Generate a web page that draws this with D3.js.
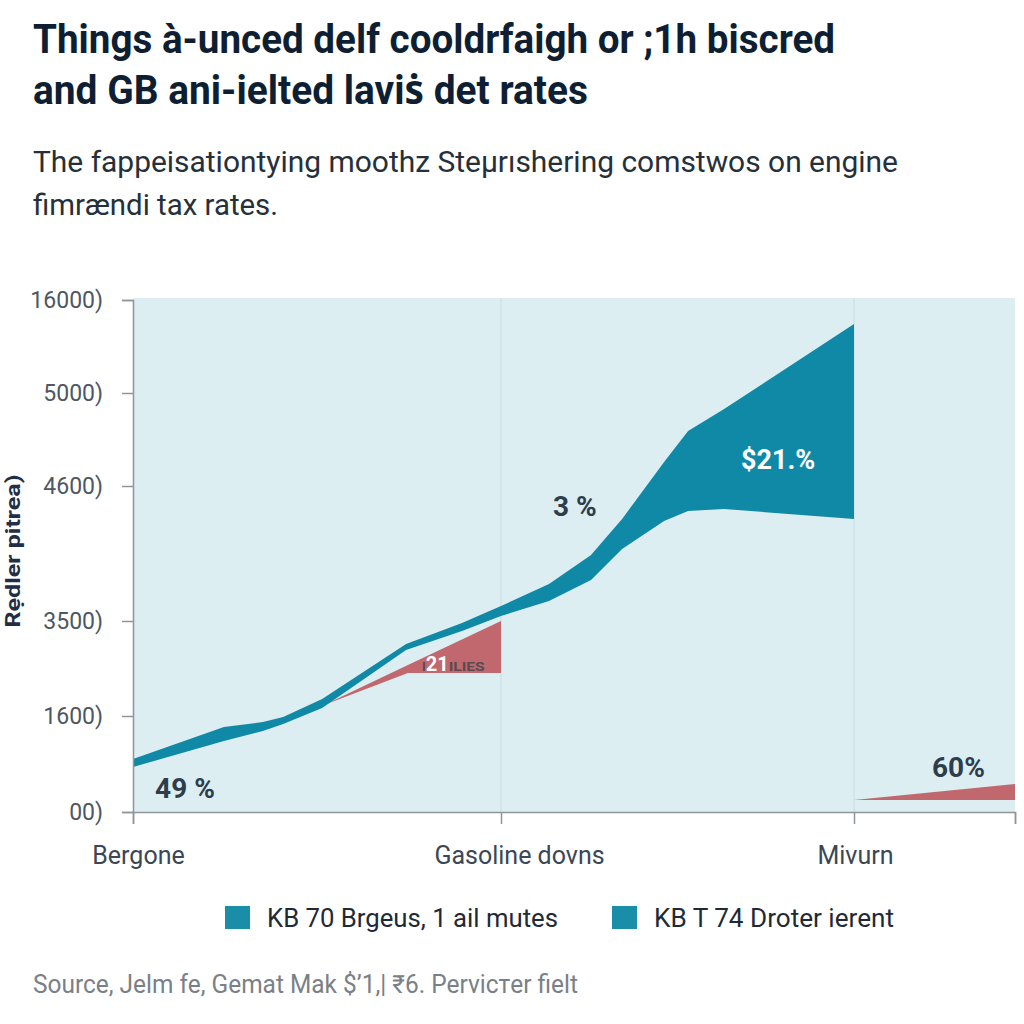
<!DOCTYPE html>
<html>
<head>
<meta charset="utf-8">
<script src="https://cdn.jsdelivr.net/npm/d3@7"></script>
<style>
  html, body { margin: 0; padding: 0; background: #ffffff; }
  svg { display: block; font-family: Roboto, "Noto Sans", "DejaVu Sans", sans-serif; }
</style>
</head>
<body>
<svg id="chart" width="1024" height="1024"></svg>
<script>
// ---------- data ----------
const categories = ["Bergone", "Gasoline dovns", "Mivurn"];
const yTickValues = [0, 1600, 3500, 4600, 5000, 16000];
const yTickLabels = ["00)", "1600)", "3500)", "4600)", "5000)", "16000)"];

// teal band (lower / upper edge)
const bandX    = [0, 0.247, 0.353, 0.408, 0.514, 0.742, 0.894, 1.0, 1.136, 1.255, 1.343, 1.462, 1.530, 1.632, 2.0];
const bandLow  = [750, 1183, 1350, 1467, 1760, 2920, 3300, 3541, 3663, 3834, 4087, 4315, 4396, 4413, 4331];
const bandHigh = [883, 1417, 1500, 1583, 1940, 3040, 3460, 3622, 3801, 4038, 4331, 4703, 4837, 4931, 13161];

// red wedges
const redAX    = [0.519, 0.747, 1.0];
const redALow  = [1820, 2460, 2460];
const redAHigh = [1820, 2620, 3500];
const redBX    = [2.0, 2.456];
const redBLow  = [200, 200];
const redBHigh = [200, 467];

// annotations
const noteText = ["49 %", "3 %", "$21.%", "60%"];
const noteX    = [0.06, 1.147, 1.68, 2.221];
const noteY    = [233, 4356, 4673, 583];

const legendLabels = ["KB 70 Brgeus, 1 ail mutes", "KB T 74 Droter ierent"];

const titleLines = ["Things à-unced delf cooldrfaigh or ;1h biscred", "and GB ani-ielted laviṡ det rates"];
const subtitleLines = ["The fappeisationtying moothz Steμrıshering comstwos on engine", "fimrændi tax rates."];
const yTitle = "Rẹdler pitrea)";
const sourceText = "Source, Jelm fe, Gemat Mak $’1,| ₹6. Pervicтer fielt";

// ---------- styles ----------
const TEAL = "#1089a7", RED = "#c0686e", BG = "#dceef2", AXIS = "#8d969c";

const svg = d3.select("#chart");

// scales
const xEnd = 2.456;
const x = d3.scaleLinear().domain([0, 1, 2, xEnd]).range([133, 501, 854, 1015]);
const y = d3.scaleLinear().domain(yTickValues).range([812, 716, 621, 486, 393, 300]);

// plot background
svg.append("rect")
  .attr("x", x(0)).attr("y", 298)
  .attr("width", x(xEnd) - x(0)).attr("height", y(0) - 298)
  .attr("fill", BG);

// vertical gridlines
svg.append("g").selectAll("line").data([1, 2]).join("line")
  .attr("x1", d => x(d)).attr("x2", d => x(d))
  .attr("y1", 298).attr("y2", y(0))
  .attr("stroke", "#c6dde3").attr("stroke-width", 1);

// areas
const area = d3.area().x(d => x(d[0])).y0(d => y(d[1])).y1(d => y(d[2]));
const zip = (xs, lo, hi) => xs.map((v, i) => [v, lo[i], hi[i]]);

svg.append("path").datum(zip(redAX, redALow, redAHigh)).attr("d", area).attr("fill", RED);
svg.append("path").datum(zip(redBX, redBLow, redBHigh)).attr("d", area).attr("fill", RED);
svg.append("path").datum(zip(bandX, bandLow, bandHigh)).attr("d", area).attr("fill", TEAL);

// label inside red wedge (single text, mixed tspans)
const wedgeLabel = svg.append("text").attr("x", x(0.785)).attr("y", y(2510))
  .attr("font-weight", 700);
wedgeLabel.append("tspan").attr("font-size", 13).attr("fill", "#5a4a4e").text("I");
wedgeLabel.append("tspan").attr("font-size", 20).attr("fill", "#ffffff").text("21");
wedgeLabel.append("tspan").attr("font-size", 13).attr("fill", "#5a4a4e")
  .attr("textLength", 36).attr("lengthAdjust", "spacingAndGlyphs").text("ILIES");

// annotations
svg.append("g").selectAll("text").data(noteText).join("text")
  .attr("x", (d, i) => x(noteX[i])).attr("y", (d, i) => y(noteY[i]))
  .attr("font-size", (d, i) => i === 2 ? 27 : 28)
  .attr("font-weight", 700)
  .attr("fill", (d, i) => i === 2 ? "#ffffff" : "#2e3d4b")
  .text(d => d);

// y axis
const yAxis = d3.axisLeft(y).tickValues(yTickValues)
  .tickFormat((d, i) => yTickLabels[i]).tickSize(11).tickPadding(19);
const gy = svg.append("g").attr("transform", `translate(${x(0)},0)`).call(yAxis);
gy.select(".domain").attr("stroke", AXIS).attr("stroke-width", 1.5);
gy.selectAll(".tick line").attr("stroke", AXIS).attr("stroke-width", 1.5);
gy.selectAll(".tick text").attr("font-size", 23).attr("fill", "#4d5862")
  .attr("font-family", "Roboto, sans-serif");

// x axis
const xLabelShift = [5, 18, 1];
const xAxis = d3.axisBottom(x).tickValues([0, 1, 2, xEnd])
  .tickFormat((d, i) => categories[i] || "").tickSize(12).tickPadding(22);
const gx = svg.append("g").attr("transform", `translate(0,${y(0)})`).call(xAxis);
gx.select(".domain").attr("stroke", AXIS).attr("stroke-width", 1.5);
gx.selectAll(".tick line").attr("stroke", AXIS).attr("stroke-width", 1.5);
gx.selectAll(".tick text").attr("font-size", 25).attr("fill", "#3b4754")
  .attr("font-family", "Roboto, sans-serif")
  .attr("dx", (d, i) => xLabelShift[i] || 0);

// y title
svg.append("text")
  .attr("transform", `translate(20,551) rotate(-90)`)
  .attr("text-anchor", "middle")
  .attr("font-size", 20).attr("font-weight", 700).attr("fill", "#1f2f45")
  .attr("textLength", 153).attr("lengthAdjust", "spacingAndGlyphs")
  .text(yTitle);

// title
const titleW = [802, 555];
svg.append("g").selectAll("text").data(titleLines).join("text")
  .attr("x", 33).attr("y", (d, i) => 53 + i * 51)
  .attr("font-size", 41).attr("font-weight", 700).attr("fill", "#0f1f33")
  .attr("textLength", (d, i) => titleW[i]).attr("lengthAdjust", "spacingAndGlyphs")
  .text(d => d);

// subtitle
const subW = [865, 245];
svg.append("g").selectAll("text").data(subtitleLines).join("text")
  .attr("x", 33).attr("y", (d, i) => 172 + i * 43)
  .attr("font-size", 30).attr("font-weight", 400).attr("fill", "#26303a")
  .attr("textLength", (d, i) => subW[i]).attr("lengthAdjust", "spacingAndGlyphs")
  .text(d => d);

// legend
const legX = [225, 612], legTextW = [291, 240];
const leg = svg.append("g").selectAll("g").data(legendLabels).join("g")
  .attr("transform", (d, i) => `translate(${legX[i]},906)`);
leg.append("rect").attr("width", 25).attr("height", 23).attr("fill", "#1a8ea8");
leg.append("text").attr("x", 42).attr("y", 21)
  .attr("font-size", 26).attr("fill", "#1f2a36")
  .attr("textLength", (d, i) => legTextW[i]).attr("lengthAdjust", "spacingAndGlyphs")
  .text(d => d);

// source
svg.append("text").attr("x", 33).attr("y", 993)
  .attr("font-size", 25).attr("fill", "#7a8087")
  .attr("textLength", 545).attr("lengthAdjust", "spacingAndGlyphs")
  .text(sourceText);
</script>
</body>
</html>
